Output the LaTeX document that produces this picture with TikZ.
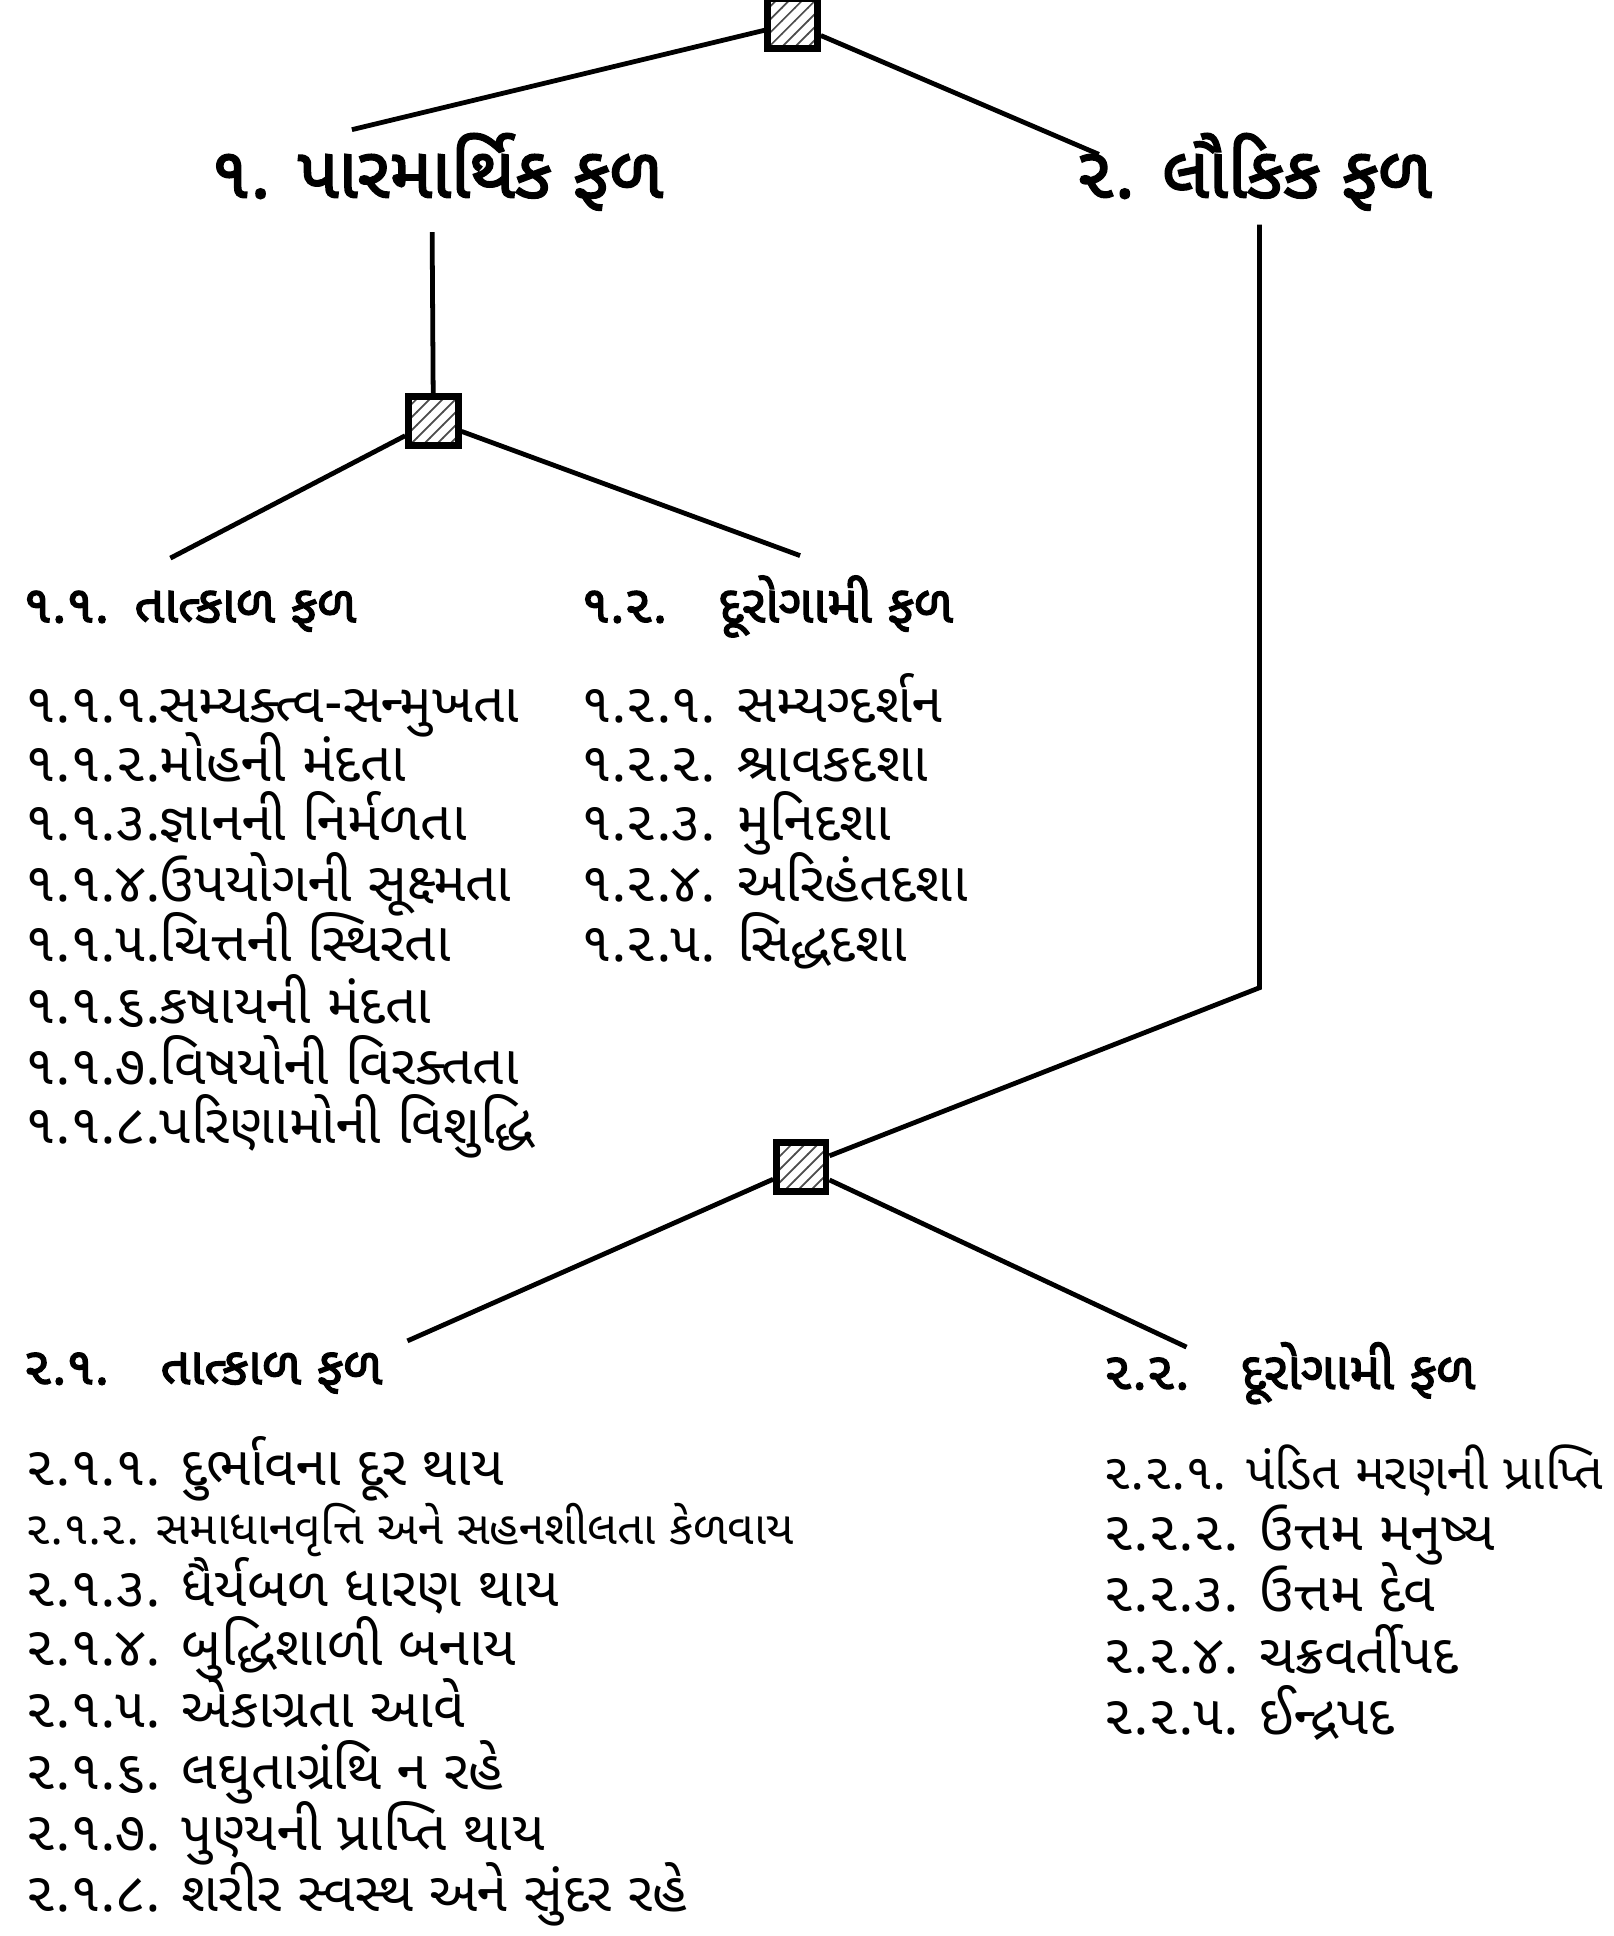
\documentclass[tikz,border=0pt]{standalone}
\usepackage{fontspec}
\usetikzlibrary{patterns}
\newfontfamily\gujfont[Script=Gujarati]{Noto Sans Gujarati UI}
\newfontfamily\gujbold[Script=Gujarati,FakeBold=2.5]{Noto Sans Gujarati UI}
\tikzset{
  hatchbox/.style={draw, line width=1.6pt, minimum width=0.4cm, minimum height=0.4cm,
    inner sep=0pt, fill=gray!25, pattern=north east lines, pattern color=black!70},
  branch/.style={line width=1.1pt},
  mainhead/.style={anchor=base west, inner sep=0pt, font=\gujbold\fontsize{16.5}{20}\selectfont},
  subhead/.style={anchor=base west, inner sep=0pt, font=\gujbold\fontsize{12}{14}\selectfont},
  item/.style={anchor=base west, inner sep=0pt, font=\gujfont\fontsize{12.6}{15}\selectfont},
  smallitem/.style={item, font=\gujfont\fontsize{10.6}{13}\selectfont},
  tightitem/.style={item, font=\gujfont\fontsize{11.5}{15}\selectfont}
}
\begin{document}
\begin{tikzpicture}[x=0.01cm,y=-0.01cm]
\useasboundingbox (0,0) rectangle (1307,1568);

% Marking the three junction boxes
\node [hatchbox] (root) at (642,19) {};
\node [hatchbox] (j1) at (351,341) {};
\node [hatchbox] (j2) at (649,945) {};

% Main headings
\node [mainhead] (h1) at (170,160) {૧. પારમાર્થિક ફળ};
\node [mainhead] (h2) at (870,160) {૨. લૌકિક ફળ};

% Sub headings
\node [subhead] (h11) at (18,504) {૧.૧.\enspace તાત્કાળ ફળ};
\node [subhead] (h12) at (470,504) {૧.૨.\quad દૂરોગામી ફળ};
\node [subhead] (h21) at (18,1121) {૨.૧.\quad તાત્કાળ ફળ};
\node [subhead] (h22) at (893,1125) {૨.૨.\quad દૂરોગામી ફળ};

% Free ends of the branch lines
\coordinate (e1) at (285,105);
\coordinate (e2) at (890,125);
\coordinate (e1down) at (350,188);
\coordinate (e2down) at (1020,182);
\coordinate (e2bend) at (1020,800);
\coordinate (e11) at (138,452);
\coordinate (e12) at (648,450);
\coordinate (e21) at (330,1086);
\coordinate (e22) at (961,1091);

% Drawing lines of the top level
\draw [branch] (root) -- (e1);
\draw [branch] (root) -- (e2);

% Drawing lines below 1
\draw [branch] (e1down) -- (j1);
\draw [branch] (j1) -- (e11);
\draw [branch] (j1) -- (e12);

% Drawing lines below 2
\draw [branch] (e2down) -- (e2bend) -- (j2);
\draw [branch] (j2) -- (e21);
\draw [branch] (j2) -- (e22);

% List 1.1
\node [item] (i111) at (20,585) {૧.૧.૧.સમ્યક્ત્વ-સન્મુખતા};
\node [item] (i112) at (20,633) {૧.૧.૨.મોહની મંદતા};
\node [item] (i113) at (20,681) {૧.૧.૩.જ્ઞાનની નિર્મળતા};
\node [item] (i114) at (20,730) {૧.૧.૪.ઉપયોગની સૂક્ષ્મતા};
\node [item] (i115) at (20,779) {૧.૧.૫.ચિત્તની સ્થિરતા};
\node [item] (i116) at (20,829) {૧.૧.૬.કષાયની મંદતા};
\node [item] (i117) at (20,878) {૧.૧.૭.વિષયોની વિરક્તતા};
\node [item] (i118) at (20,926) {૧.૧.૮.પરિણામોની વિશુદ્ધિ};

% List 1.2
\node [item] (i121) at (470,585) {૧.૨.૧. સમ્યગ્દર્શન};
\node [item] (i122) at (470,633) {૧.૨.૨. શ્રાવકદશા};
\node [item] (i123) at (470,681) {૧.૨.૩. મુનિદશા};
\node [item] (i124) at (470,730) {૧.૨.૪. અરિહંતદશા};
\node [item] (i125) at (470,779) {૧.૨.૫. સિદ્ધદશા};

% List 2.1
\node [item] (i211) at (20,1203) {૨.૧.૧. દુર્ભાવના દૂર થાય};
\node [smallitem] (i212) at (20,1251) {૨.૧.૨. સમાધાનવૃત્તિ અને સહનશીલતા કેળવાય};
\node [item] (i213) at (20,1301) {૨.૧.૩. ધૈર્યબળ ધારણ થાય};
\node [item] (i214) at (20,1349) {૨.૧.૪. બુદ્ધિશાળી બનાય};
\node [item] (i215) at (20,1399) {૨.૧.૫. એકાગ્રતા આવે};
\node [item] (i216) at (20,1449) {૨.૧.૬. લઘુતાગ્રંથિ ન રહે};
\node [item] (i217) at (20,1499) {૨.૧.૭. પુણ્યની પ્રાપ્તિ થાય};
\node [item] (i218) at (20,1548) {૨.૧.૮. શરીર સ્વસ્થ અને સુંદર રહે};

% List 2.2
\node [tightitem] (i221) at (893,1206) {૨.૨.૧. પંડિત મરણની પ્રાપ્તિ};
\node [item] (i222) at (893,1256) {૨.૨.૨. ઉત્તમ મનુષ્ય};
\node [item] (i223) at (893,1305) {૨.૨.૩. ઉત્તમ દેવ};
\node [item] (i224) at (893,1355) {૨.૨.૪. ચક્રવર્તીપદ};
\node [item] (i225) at (893,1405) {૨.૨.૫. ઈન્દ્રપદ};
\end{tikzpicture}
\end{document}
